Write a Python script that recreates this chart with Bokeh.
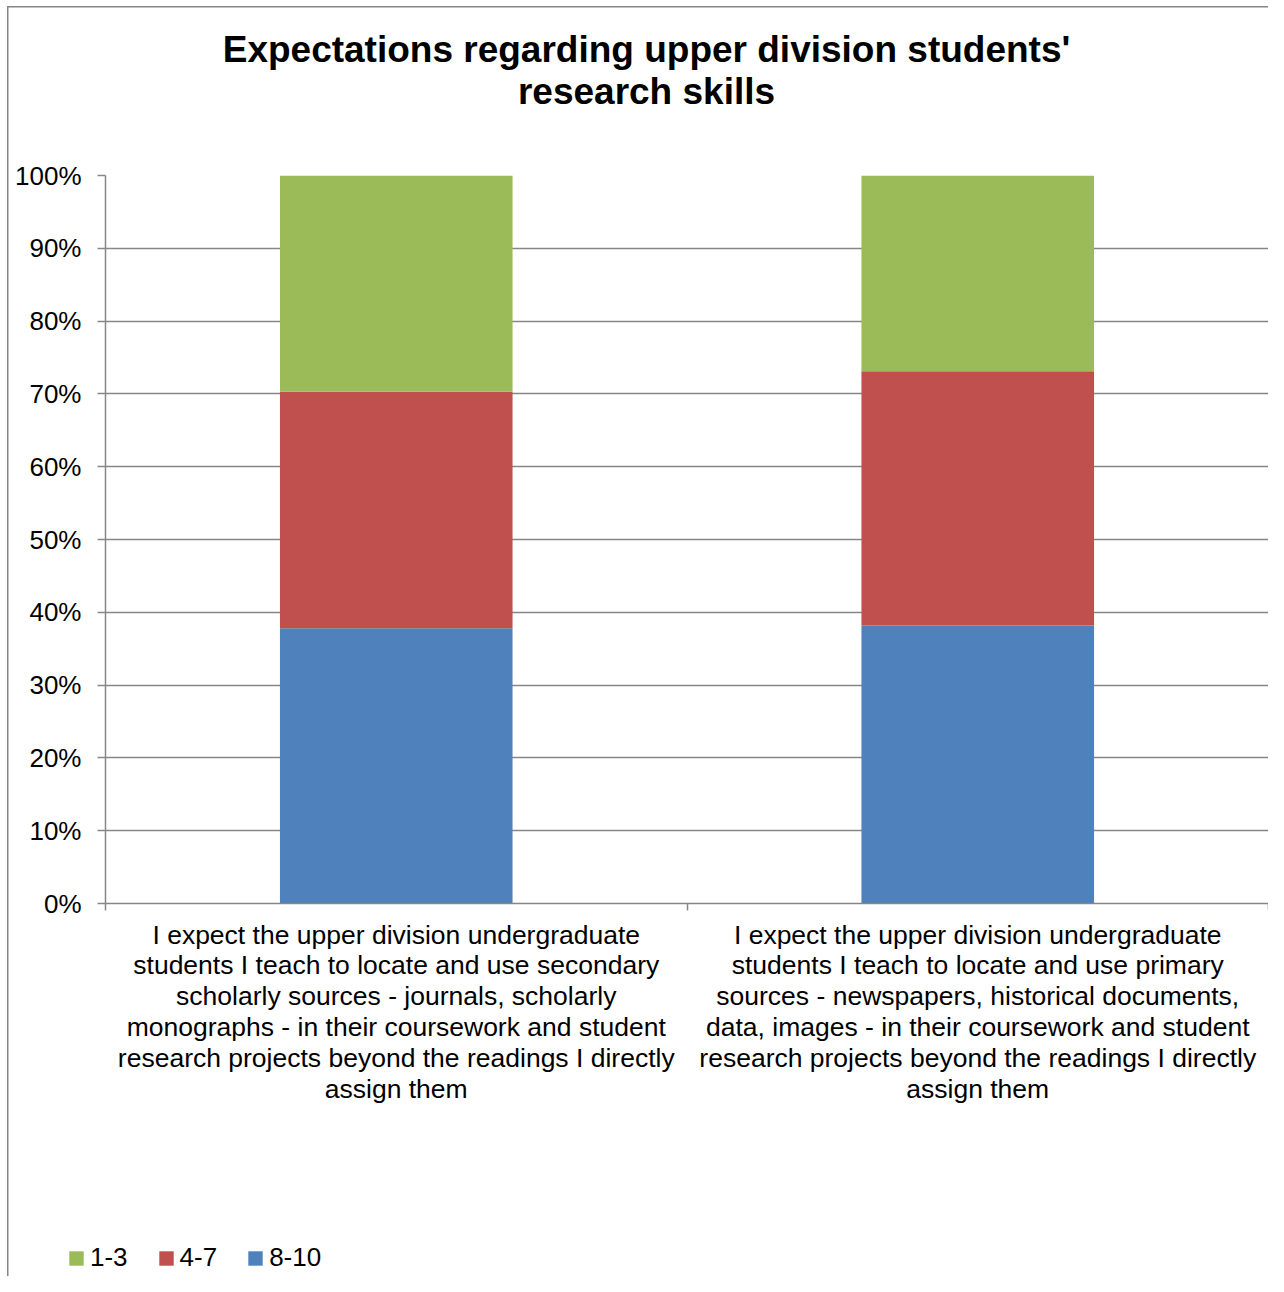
from bokeh.plotting import figure
from bokeh.layouts import column
from bokeh.models import (ColumnDataSource, FixedTicker, NumeralTickFormatter, Legend,
                          LegendItem, Label, Range1d)
from bokeh.embed import file_html
from bokeh.resources import INLINE

# ---------------- data ----------------
categories = [
    "I expect the upper division undergraduate\nstudents I teach to locate and use secondary\n"
    "scholarly sources - journals, scholarly\nmonographs - in their coursework and student\n"
    "research projects beyond the readings I directly\nassign them",
    "I expect the upper division undergraduate\nstudents I teach to locate and use primary\n"
    "sources - newspapers, historical documents,\ndata, images - in their coursework and student\n"
    "research projects beyond the readings I directly\nassign them",
]
stack_order = ["8-10", "4-7", "1-3"]          # bottom to top
values_8_10 = [0.378, 0.382]
values_4_7 = [0.325, 0.349]
values_1_3 = [0.297, 0.269]
legend_order = ["1-3", "4-7", "8-10"]
series_colors = {"1-3": "#9BBB59", "4-7": "#C0504D", "8-10": "#4F81BD"}
y_ticks = [0.0, 0.1, 0.2, 0.3, 0.4, 0.5, 0.6, 0.7, 0.8, 0.9, 1.0]
title_lines = ["Expectations regarding upper division students'", "research skills"]

FONT = "Liberation Sans"
GRAY = "#868686"
W = 1268

x_pos = [i + 0.5 for i in range(len(categories))]
boundaries = list(range(len(categories) + 1))

source = ColumnDataSource(data={
    "x": x_pos,
    "8-10": values_8_10,
    "4-7": values_4_7,
    "1-3": values_1_3,
})

# ---------------- title strip ----------------
pt = figure(width=W, height=155, x_range=Range1d(0, 1), y_range=Range1d(0, 1),
            output_backend="svg", toolbar_location=None, title=None,
            x_axis_type=None, y_axis_type=None, min_border=0)
pt.outline_line_color = None
pt.grid.visible = False
pt.background_fill_alpha = 0
pt.border_fill_alpha = 0
pt.add_layout(Label(x=541, y=106, x_units="screen", y_units="screen", text=title_lines[0],
                    text_align="center", text_baseline="alphabetic", text_font=FONT,
                    text_font_style="bold", text_font_size="37px", text_color="black"))
pt.add_layout(Label(x=541, y=64, x_units="screen", y_units="screen", text=title_lines[1],
                    text_align="center", text_baseline="alphabetic", text_font=FONT,
                    text_font_style="bold", text_font_size="37px", text_color="black"))

# ---------------- main chart ----------------
p = figure(width=W, height=1075,
           x_range=Range1d(0, len(categories)), y_range=Range1d(0, 1),
           output_backend="svg", toolbar_location=None, title=None,
           min_border_left=105, min_border_right=0,
           min_border_top=20, min_border_bottom=327)
p.outline_line_color = None
p.background_fill_color = "white"
p.border_fill_alpha = 0

p.vbar_stack(stack_order, x="x", width=0.4, source=source,
             fill_color=[series_colors[s] for s in stack_order], line_color=None)

xaxis = p.xaxis[0]
xaxis.ticker = FixedTicker(ticks=x_pos, minor_ticks=boundaries)
xaxis.major_label_overrides = {x_pos[i]: categories[i] for i in range(len(categories))}
xaxis.major_tick_out = 0
xaxis.major_tick_in = 0
xaxis.minor_tick_out = 7
xaxis.minor_tick_in = 0
xaxis.minor_tick_line_color = GRAY
xaxis.minor_tick_line_width = 1.5
xaxis.axis_line_color = GRAY
xaxis.axis_line_width = 1.5
xaxis.major_label_standoff = 9
xaxis.major_label_text_font = FONT
xaxis.major_label_text_font_size = "26.5px"
xaxis.major_label_text_line_height = 1.03
xaxis.major_label_text_color = "black"

yticker = FixedTicker(ticks=y_ticks)
yaxis = p.yaxis[0]
yaxis.ticker = yticker
yaxis.formatter = NumeralTickFormatter(format="0%")
yaxis.major_tick_out = 8
yaxis.major_tick_in = 0
yaxis.minor_tick_out = 0
yaxis.minor_tick_in = 0
yaxis.major_tick_line_color = GRAY
yaxis.major_tick_line_width = 1.5
yaxis.axis_line_color = GRAY
yaxis.axis_line_width = 1.5
yaxis.major_label_standoff = 16
yaxis.major_label_text_font = FONT
yaxis.major_label_text_font_size = "26px"
yaxis.major_label_text_color = "black"

p.xgrid.visible = False
p.ygrid.ticker = yticker
p.ygrid.grid_line_color = GRAY
p.ygrid.grid_line_width = 1.5

# ---------------- legend strip ----------------
pl = figure(width=W, height=46, x_range=Range1d(-10, -9), y_range=Range1d(0, 1),
            output_backend="svg", toolbar_location=None, title=None,
            x_axis_type=None, y_axis_type=None, min_border=0)
pl.outline_line_color = None
pl.grid.visible = False
pl.background_fill_alpha = 0
pl.border_fill_alpha = 0
proxies = pl.vbar_stack(stack_order, x="x", width=0.4, source=source,
                        fill_color=[series_colors[s] for s in stack_order], line_color=None)
pmap = dict(zip(stack_order, proxies))
legend = Legend(items=[LegendItem(label=s, renderers=[pmap[s]]) for s in legend_order],
                orientation="horizontal", location=(67, 3),
                glyph_width=18, glyph_height=18, label_standoff=5, spacing=29,
                padding=0, margin=0, border_line_color=None, background_fill_alpha=0,
                label_text_font=FONT, label_text_font_size="26px", label_text_color="black")
pl.add_layout(legend)

border_style = {
    "background-color": "white",
    "background-image": "linear-gradient(#868686, #868686), linear-gradient(#868686, #868686)",
    "background-position": "7px 6px, 7px 6px",
    "background-size": "1.5px 100%, 100% 1.5px",
    "background-repeat": "no-repeat",
}
layout = column(pt, p, column(pl), spacing=0, styles=border_style)

open("out.html", "w").write(file_html(layout, INLINE))
